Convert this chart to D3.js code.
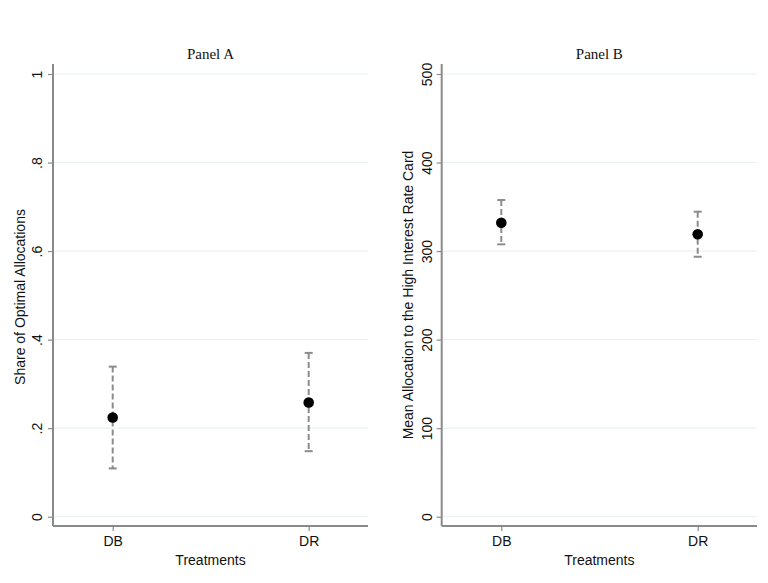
<!DOCTYPE html>
<html><head><meta charset="utf-8">
<script src="https://cdn.jsdelivr.net/npm/d3@7"></script>
<style>body{margin:0;background:#fff;} svg{display:block;}</style>
</head><body>
<svg id="c" width="768" height="583"></svg>
<script>
const categories = ["DB", "DR"];
const panelATitle = "Panel A";
const panelBTitle = "Panel B";
const meansA = [0.224, 0.258];
const lowerA = [0.109, 0.148];
const upperA = [0.339, 0.370];
const ticksA = [0, 0.2, 0.4, 0.6, 0.8, 1];
const tickLabelsA = ["0", ".2", ".4", ".6", ".8", "1"];
const meansB = [332, 319];
const lowerB = [307.6, 293.6];
const upperB = [357.7, 344.5];
const ticksB = [0, 100, 200, 300, 400, 500];
const tickLabelsB = ["0", "100", "200", "300", "400", "500"];

const svg = d3.select("#c");
const sans = "'Liberation Sans', Arial, Helvetica, sans-serif";
const serif = "'Liberation Serif', 'Times New Roman', serif";

function panel(cfg) {
  const g = svg.append("g");
  const x = d3.scalePoint().domain(categories).range([cfg.x0 + cfg.pad, cfg.x1 - cfg.padR]);
  const y = d3.scaleLinear().domain(cfg.domain).range([516.7, 74]);

  // gridlines
  g.selectAll(".grid").data(cfg.ticks).join("line")
    .attr("x1", cfg.x0).attr("x2", cfg.x1)
    .attr("y1", d => y(d)).attr("y2", d => y(d))
    .attr("stroke", "#e6eff1").attr("stroke-width", 1);

  // y axis
  const ya = d3.axisLeft(y).tickValues(cfg.ticks).tickFormat((d, i) => cfg.labels[i]).tickSize(5).tickPadding(4);
  const yg = g.append("g").attr("transform", `translate(${cfg.x0},0)`).call(ya);
  yg.select(".domain").attr("d", `M0,64V526`).attr("stroke", "#8a8a8a").attr("stroke-width", 2);
  yg.selectAll(".tick line").attr("stroke", "#8a8a8a").attr("stroke-width", 1.2);
  yg.selectAll(".tick text")
    .attr("transform", `translate(${-cfg.tickOff},0) rotate(-90)`)
    .attr("x", 0).attr("y", 0).attr("dy", "0")
    .attr("text-anchor", "middle")
    .style("font-family", sans).style("font-size", "14px").attr("fill", "#111");

  // x axis
  const xa = d3.axisBottom(x).tickSize(5).tickPadding(5);
  const xg = g.append("g").attr("transform", `translate(0,526)`).call(xa);
  xg.select(".domain").attr("d", `M${cfg.x0},0H${cfg.x1}`).attr("stroke", "#8a8a8a").attr("stroke-width", 2);
  xg.selectAll(".tick line").attr("stroke", "#8a8a8a").attr("stroke-width", 1.2);
  xg.selectAll(".tick text").style("font-family", sans).style("font-size", "14px").attr("fill", "#111");

  // error bars
  const eb = g.append("g");
  categories.forEach((c, i) => {
    const cx = x(c);
    eb.append("line").attr("x1", cx).attr("x2", cx)
      .attr("y1", y(cfg.upper[i])).attr("y2", y(cfg.lower[i]))
      .attr("stroke", "#8c8c8c").attr("stroke-width", 2).attr("stroke-dasharray", "6,3");
    [cfg.upper[i], cfg.lower[i]].forEach(v => {
      eb.append("line").attr("x1", cx - 4).attr("x2", cx + 4)
        .attr("y1", y(v)).attr("y2", y(v))
        .attr("stroke", "#8c8c8c").attr("stroke-width", 2);
    });
  });
  g.selectAll(".pt").data(cfg.means).join("circle")
    .attr("cx", (d, i) => x(categories[i])).attr("cy", d => y(d))
    .attr("r", 5.3).attr("fill", "#000");

  // titles
  g.append("text").attr("x", (cfg.x0 + cfg.x1) / 2).attr("y", 59)
    .attr("text-anchor", "middle").style("font-family", serif).style("font-size", "15px")
    .attr("fill", "#111").text(cfg.title);
  g.append("text").attr("x", (cfg.x0 + cfg.x1) / 2).attr("y", 565)
    .attr("text-anchor", "middle").style("font-family", sans).style("font-size", "14px")
    .attr("fill", "#111").text("Treatments");
  g.append("text").attr("transform", `translate(${cfg.ylabX},${cfg.ylabY}) rotate(-90)`)
    .attr("text-anchor", "middle").style("font-family", sans).style("font-size", "14px")
    .attr("fill", "#111").text(cfg.ylab);
}

panel({x0: 53, x1: 368, pad: 59.7, padR: 59.3, domain: [0, 1], ticks: ticksA, labels: tickLabelsA,
  means: meansA, lower: lowerA, upper: upperA, title: panelATitle, tickOff: 11,
  ylab: "Share of Optimal Allocations", ylabX: 25, ylabY: 297});
panel({x0: 441.7, x1: 757, pad: 59.6, padR: 59.3, domain: [0, 500], ticks: ticksB, labels: tickLabelsB,
  means: meansB, lower: lowerB, upper: upperB, title: panelBTitle, tickOff: 10,
  ylab: "Mean Allocation to the High Interest Rate Card", ylabX: 413, ylabY: 295});
</script>
</body></html>
